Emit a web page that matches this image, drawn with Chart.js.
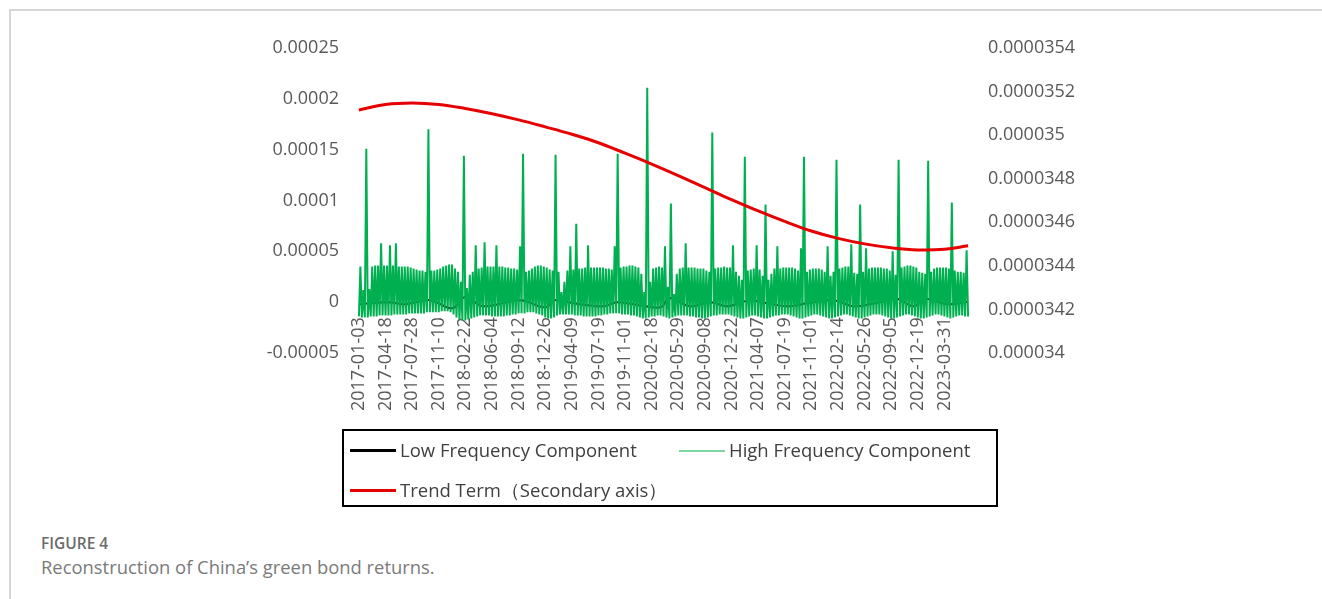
<!DOCTYPE html>
<html>
<head>
<meta charset="utf-8">
<script src="https://cdn.jsdelivr.net/npm/chart.js@4.4.1/dist/chart.umd.min.js"></script>
<style>
  html, body { margin: 0; padding: 0; background: #fff; }
  body { width: 1322px; height: 599px; position: relative; overflow: hidden; font-family: "Open Sans", sans-serif; }
  #frame { position: absolute; left: 9px; top: 9px; right: -4px; bottom: -4px; border-top: 2px solid #d6d6d6; border-left: 2px solid #d6d6d6; }
  #chart { position: absolute; left: 0; top: 0; }
  #legend { position: absolute; left: 342px; top: 429px; width: 652px; height: 74px; border: 2px solid #000; color: #404040; font-size: 18.5px; }
  .sw { position: absolute; width: 46px; }
  .lt { position: absolute; line-height: 24px; white-space: nowrap; }
  #fig { position: absolute; left: 41px; top: 533px; font-size: 15.5px; font-weight: 600; color: #6b6b6b; line-height: 20px; }
  #cap { position: absolute; left: 41px; top: 555px; font-size: 18.4px; color: #7a7a7a; line-height: 24px; }
</style>
</head>
<body>
<div id="frame"></div>
<canvas id="chart" width="1322" height="440"></canvas>
<div id="legend">
  <div class="sw" style="left:6px; top:18px; height:3px; background:#000;"></div>
  <div class="lt" style="left:56px; top:7px;">Low Frequency Component</div>
  <div class="sw" style="left:335px; top:19px; height:2px; background:#7ed6a0;"></div>
  <div class="lt" style="left:385px; top:7px;">High Frequency Component</div>
  <div class="sw" style="left:6px; top:58px; height:3px; background:#e60000;"></div>
  <div class="lt" style="left:56px; top:47px;">Trend Term（Secondary axis）</div>
</div>
<div id="fig">FIGURE 4</div>
<div id="cap">Reconstruction of China’s green bond returns.</div>
<script>
// x-axis date labels, one every 18 points
const dateLabels = ['2017-01-03', '2017-04-18', '2017-07-28', '2017-11-10', '2018-02-22', '2018-06-04',
  '2018-09-12', '2018-12-26', '2019-04-09', '2019-07-19', '2019-11-01', '2020-02-18', '2020-05-29',
  '2020-09-08', '2020-12-22', '2021-04-07', '2021-07-19', '2021-11-01', '2022-02-14', '2022-05-26',
  '2022-09-05', '2022-12-19', '2023-03-31'];
const labelStep = 18;

// High frequency component, in millionths: peaks (odd points) and troughs (even points)
const hfPeaks = [
  35, 12, 151, 13, 35, 36, 36, 58, 36, 36,
  56, 36, 58, 35, 35, 35, 35, 34, 33, 32,
  31, 31, 30, 170, 31, 31, 32, 33, 35, 36,
  37, 37, 33, 30, 20, 144, 14, 27, 30, 56,
  33, 34, 59, 35, 35, 35, 56, 35, 35, 34,
  34, 33, 33, 32, 55, 146, 30, 31, 33, 35,
  36, 36, 35, 34, 32, 31, 145, 30, 10, 20,
  31, 55, 32, 77, 33, 33, 34, 56, 34, 34,
  34, 34, 34, 33, 33, 32, 55, 146, 34, 35,
  35, 36, 36, 35, 34, 28, 10, 211, 20, 33,
  34, 35, 34, 55, 15, 97, 8, 28, 33, 34,
  58, 34, 34, 34, 33, 33, 33, 31, 30, 167,
  33, 34, 34, 35, 34, 34, 56, 30, 26, 22,
  143, 31, 32, 33, 56, 32, 26, 96, 22, 28,
  33, 55, 33, 34, 34, 34, 34, 33, 31, 53,
  143, 30, 32, 33, 33, 33, 32, 30, 55, 26,
  30, 140, 33, 34, 35, 35, 57, 29, 28, 96,
  30, 53, 33, 34, 34, 34, 34, 33, 33, 31,
  50, 27, 140, 34, 35, 36, 36, 35, 34, 30,
  29, 28, 139, 30, 33, 34, 34, 34, 34, 33,
  98, 31, 30, 30, 29, 51];
const hfTroughs = [
  -14, -15, -15, -15, -14, -14, -14, -13, -13, -13,
  -13, -13, -12, -12, -12, -12, -12, -11, -11, -11,
  -11, -11, -11, -10, -10, -10, -10, -10, -9, -9,
  -9, -10, -12, -15, -17, -18, -18, -17, -16, -15,
  -14, -13, -13, -13, -13, -14, -14, -14, -14, -14,
  -13, -13, -12, -12, -11, -11, -11, -10, -10, -10,
  -11, -12, -13, -15, -16, -16, -15, -13, -12, -12,
  -12, -12, -12, -13, -13, -13, -14, -14, -14, -14,
  -14, -13, -13, -12, -12, -11, -11, -11, -11, -12,
  -12, -12, -13, -13, -14, -15, -16, -16, -15, -14,
  -14, -13, -13, -14, -15, -16, -15, -14, -13, -13,
  -13, -13, -14, -14, -15, -15, -16, -16, -15, -14,
  -13, -13, -12, -12, -12, -12, -13, -14, -15, -16,
  -16, -15, -14, -13, -13, -14, -15, -16, -16, -15,
  -14, -13, -13, -12, -12, -12, -13, -14, -15, -16,
  -16, -15, -14, -13, -12, -12, -13, -14, -15, -16,
  -16, -15, -14, -13, -12, -12, -13, -14, -15, -16,
  -16, -15, -14, -13, -12, -12, -12, -13, -14, -15,
  -16, -16, -15, -14, -13, -12, -12, -13, -14, -15,
  -16, -16, -15, -14, -13, -12, -12, -13, -14, -15,
  -16, -15, -14, -13, -13, -14, -14];

// Low frequency component, in millionths, at point positions
const lfIndex = [0, 20, 31, 48, 63, 72, 84, 109, 126, 133, 145, 165, 175, 190, 204, 210, 224, 238,
  249, 263, 276, 290, 303, 321, 334, 349, 364, 375, 384, 398, 412];
const lfValues = [-2, 0, -2, 2, -6, 5, -4, 2, -5, 2, -1, -4, 0, -3, -5, 4, -4, 0,
  -4, 1.5, -1, -4, -1, 2, -4, -1, 3, -4, 3, -2, 0.3];

// Trend term (secondary axis), in units of 1e-7
const trendIndex = [0, 18, 36, 54, 72, 90, 108, 126, 144, 162, 180, 198, 216, 234, 252, 270, 288,
  306, 324, 342, 360, 378, 396, 412];
const trendValues = [351.15, 351.41, 351.48, 351.41, 351.22, 350.98, 350.7, 350.38, 350.04, 349.65,
  349.17, 348.67, 348.14, 347.59, 347.04, 346.52, 346.04, 345.6, 345.26, 345.01, 344.83, 344.73,
  344.76, 344.92];

// build point lists
const hfPoints = [];
for (let i = 0; i < hfTroughs.length + hfPeaks.length; i++) {
  const v = i % 2 === 0 ? hfTroughs[i / 2] : hfPeaks[(i - 1) / 2];
  hfPoints.push({ x: i, y: v * 1e-6 });
}
const lfPoints = lfIndex.map((x, i) => ({ x: x, y: lfValues[i] * 1e-6 }));
const trendPoints = trendIndex.map((x, i) => ({ x: x, y: trendValues[i] * 1e-7 }));

const tickFont = { family: '"Open Sans", sans-serif', size: 18 };
const fmt = v => String(+Number(v).toFixed(9));

const ctx = document.getElementById('chart').getContext('2d');
const chart = new Chart(ctx, {
  type: 'line',
  data: {
    datasets: [{
      label: 'Trend Term（Secondary axis）',
      data: trendPoints,
      yAxisID: 'y1',
      borderColor: '#e60000',
      borderWidth: 3,
      pointRadius: 0,
      tension: 0.4,
      order: 0
    }, {
      label: 'High Frequency Component',
      data: hfPoints,
      yAxisID: 'y',
      borderColor: '#00b050',
      borderWidth: 2,
      pointRadius: 0,
      tension: 0,
      order: 1
    }, {
      label: 'Low Frequency Component',
      data: lfPoints,
      yAxisID: 'y',
      borderColor: '#000000',
      borderWidth: 2,
      pointRadius: 0,
      tension: 0.4,
      order: 2
    }]
  },
  options: {
    responsive: false,
    animation: false,
    devicePixelRatio: 1,
    layout: { padding: { left: 200, right: 228, top: 48, bottom: 87 } },
    plugins: {
      legend: { display: false },
      tooltip: { enabled: false }
    },
    scales: {
      x: {
        type: 'linear',
        position: { y: 0 },
        min: -4,
        max: 416,
        grid: { display: false, drawTicks: false },
        border: { display: false },
        ticks: {
          stepSize: labelStep,
          autoSkip: false,
          includeBounds: false,
          minRotation: 90,
          maxRotation: 90,
          padding: 15,
          color: '#595959',
          font: tickFont,
          callback: v => dateLabels[v / labelStep] ?? ''
        }
      },
      y: {
        position: 'left',
        min: -0.00005,
        max: 0.00025,
        afterFit: s => { s.width = 153; },
        grid: { display: false, drawTicks: false },
        border: { display: false },
        ticks: { stepSize: 0.00005, padding: 14, color: '#595959', font: tickFont, callback: fmt }
      },
      y1: {
        position: 'right',
        min: 0.000034,
        max: 0.0000354,
        afterFit: s => { s.width = 120; },
        grid: { display: false, drawTicks: false },
        border: { display: false },
        ticks: { stepSize: 0.0000002, padding: 14, color: '#595959', font: tickFont, callback: fmt }
      }
    }
  }
});
</script>
</body>
</html>
